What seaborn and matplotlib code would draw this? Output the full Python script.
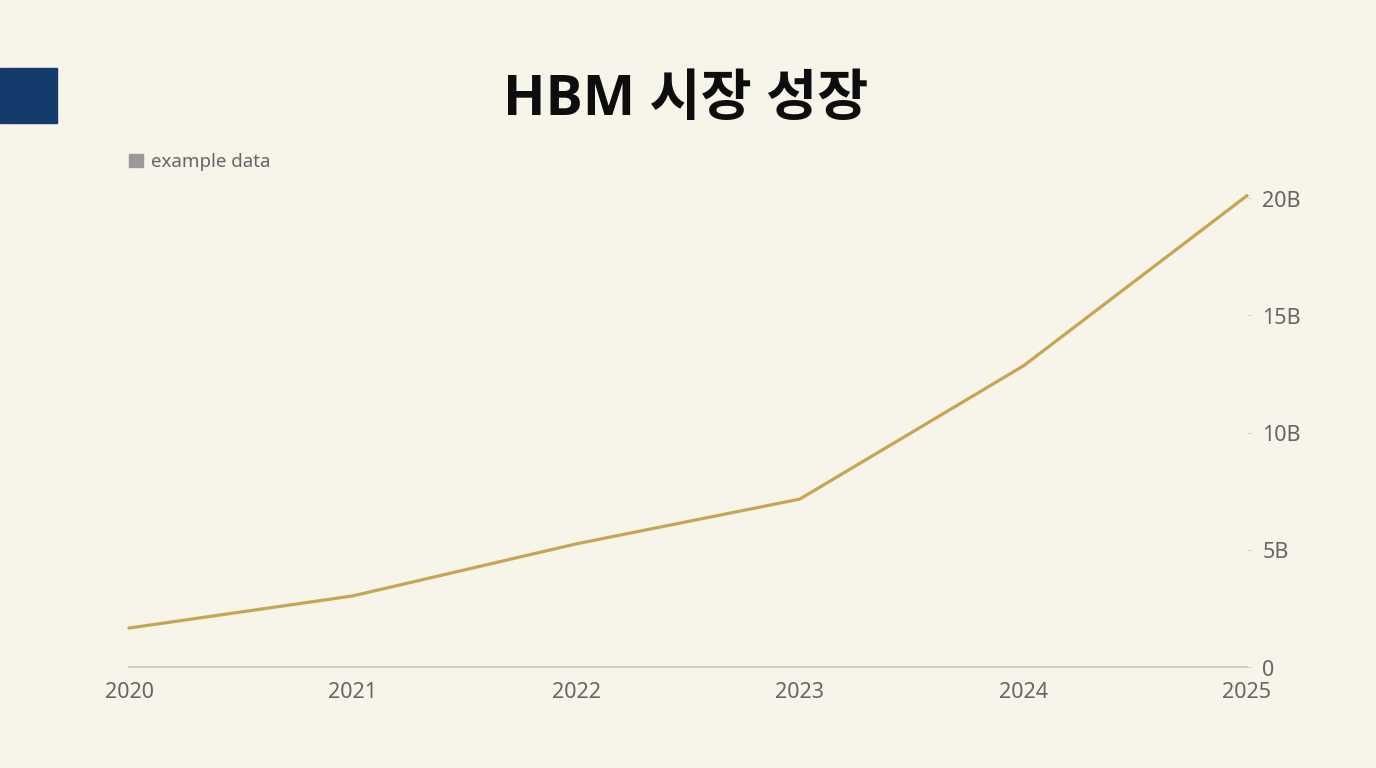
import matplotlib
matplotlib.use("Agg")
import matplotlib.pyplot as plt
import matplotlib.patches as mpatches
import matplotlib.transforms as mtransforms
import seaborn as sns
import pandas as pd

years = [2020, 2021, 2022, 2023, 2024, 2025]
values = [1.66, 3.03, 5.25, 7.16, 12.84, 20.1]
y_ticks = [0, 5, 10, 15, 20]
y_tick_labels = ["0", "5B", "10B", "15B", "20B"]
title = "HBM 시장 성장"
legend_label = "example data"

bg = "#f7f4ea"
sns.set_theme(style="white")
plt.rcParams['font.family'] = ['Noto Sans', 'Noto Sans CJK KR', 'DejaVu Sans']

W, H = 1376, 768
fig = plt.figure(figsize=(W / 100, H / 100), dpi=100, facecolor=bg)
ax = fig.add_axes([129 / W, 1 - 667 / H, (1247 - 129) / W, (20.5 * 23.45) / H])
ax.set_facecolor(bg)

df = pd.DataFrame({"year": years, "value": values})
sns.lineplot(data=df, x="year", y="value", ax=ax, color="#c8a552", linewidth=2.3,
             solid_capstyle="round", clip_on=False, legend=False)

ax.set_xlim(2020, 2025)
ax.set_ylim(0, 20.5)
ax.set_xticks(years)
ax.set_xticklabels([str(y) for y in years])
ax.set_yticks(y_ticks)
ax.set_yticklabels(y_tick_labels)
ax.yaxis.tick_right()
ax.set_xlabel("")
ax.set_ylabel("")
for s in ["top", "left", "right"]:
    ax.spines[s].set_visible(False)
ax.spines["bottom"].set_color("#c9c6bb")
ax.spines["bottom"].set_linewidth(1.2)
ax.tick_params(axis="x", direction="out", length=4.5, width=1.2, color="#c9c6bb",
               labelsize=15.5, labelcolor="#666666", pad=6)
ax.tick_params(axis="y", direction="out", length=3, width=0.8, color="#d6d3c8",
               labelsize=15.5, labelcolor="#666666", pad=8)
offset = mtransforms.ScaledTranslation(0, -3 / 100, fig.dpi_scale_trans)
for lab in ax.get_yticklabels():
    lab.set_verticalalignment("center")
    lab.set_transform(lab.get_transform() + offset)

fig.text(686 / W, 1 - 100 / H, title, ha="center", va="center", fontsize=40,
         fontweight="bold", color="#0d0d0d",
         family=['Open Sans', 'Noto Sans CJK KR', 'DejaVu Sans'])

fig.patches.append(mpatches.Rectangle((0, 1 - 123 / H), 57 / W, 55 / H,
                                      transform=fig.transFigure, color="#123a6a", zorder=5))

handle = mpatches.Patch(color="#999999")
fig.legend([handle], [legend_label], loc="center left",
           bbox_to_anchor=(112 / W, 1 - 162 / H), frameon=False,
           handlelength=0.75, handleheight=0.75, handletextpad=0.45,
           prop={"size": 13.5}, labelcolor="#666666")

fig.savefig("out.png", dpi=100, facecolor=bg)
